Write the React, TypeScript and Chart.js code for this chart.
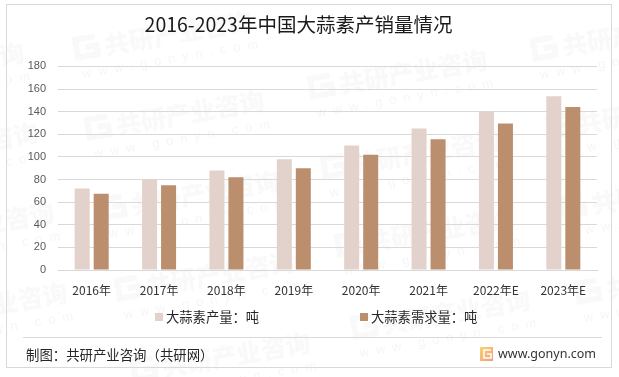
import React, { useEffect, useRef } from "react";
import { Chart, registerables } from "chart.js";

Chart.register(...registerables);

const categories = ["2016年", "2017年", "2018年", "2019年", "2020年", "2021年", "2022年E", "2023年E"];
const outputValues = [72, 80, 88, 98, 110, 125, 140, 153.5];
const demandValues = [67.5, 75, 82, 90, 102, 115.5, 129.5, 144];
const titleText = "2016-2023年中国大蒜素产销量情况";
const outputLabel = "大蒜素产量：吨";
const demandLabel = "大蒜素需求量：吨";
const sourceText = "制图：共研产业咨询（共研网）";
const siteText = "www.gonyn.com";
const watermarkStarts = [
  [-153, 90], [-139, 170], [-123, 250], [-110, 330],
  [75, 58], [87, 138], [102, 218], [117, 299], [133, 380],
  [310, 97], [323, 177], [337, 255], [353, 337],
  [533, 59], [548, 137], [562, 217], [577, 302],
];
const legendBoxX = [155, 360];

const CJK = '"Noto Sans CJK SC", "Noto Sans", sans-serif';

const decor = {
  id: "decor",
  beforeDraw(chart: any) {
    const c = chart.ctx;
    c.save();
    c.fillStyle = "#ffffff";
    c.fillRect(0, 0, 619, 377);
    for (const [x, y] of watermarkStarts) {
      c.save();
      c.translate(x, y);
      c.rotate(-0.17);
      c.strokeStyle = "rgba(110,110,110,0.045)";
      c.lineWidth = 6;
      c.beginPath();
      c.moveTo(23, -18);
      c.lineTo(3, -18);
      c.lineTo(3, 0);
      c.lineTo(23, 0);
      c.lineTo(23, -9);
      c.lineTo(12, -9);
      c.stroke();
      c.fillStyle = "rgba(110,110,110,0.045)";
      c.font = `900 25px ${CJK}`;
      c.textBaseline = "alphabetic";
      c.fillText("共研产业咨询", 31, 2);
      c.fillStyle = "rgba(110,110,110,0.07)";
      c.font = `400 13px "Liberation Sans", sans-serif`;
      (c as any).letterSpacing = "7px";
      c.fillText("www.gonyn.com", 4, 21);
      (c as any).letterSpacing = "0px";
      c.restore();
    }
    c.restore();
  },
  afterDraw(chart: any) {
    const c = chart.ctx;
    c.save();
    c.strokeStyle = "#d9d9d9";
    c.lineWidth = 1;
    c.strokeRect(6.5, 4.5, 605, 363);
    c.beginPath();
    c.moveTo(23, 337.5);
    c.lineTo(602, 337.5);
    c.stroke();
    chart.data.datasets.forEach((d: any, i: number) => {
      c.fillStyle = d.backgroundColor;
      c.fillRect(legendBoxX[i], 313, 8, 8);
      c.fillStyle = "#262626";
      c.textBaseline = "middle";
      c.font = `13.3px ${CJK}`;
      c.fillText(d.label, legendBoxX[i] + 11, 317);
    });
    c.fillStyle = "#262626";
    c.textBaseline = "middle";
    c.font = `13.4px ${CJK}`;
    c.fillText(sourceText, 26, 355);
    c.font = `12.5px "Noto Sans", sans-serif`;
    c.fillStyle = "#333333";
    c.fillText(siteText, 498, 354);
    const g = c.createLinearGradient(480, 347, 493, 361);
    g.addColorStop(0, "#f9d36f");
    g.addColorStop(1, "#f79a7c");
    c.fillStyle = g;
    c.fillRect(480, 347, 13, 14);
    c.strokeStyle = "#ffffff";
    c.lineWidth = 1.6;
    c.beginPath();
    c.moveTo(491, 350);
    c.lineTo(484, 350);
    c.lineTo(484, 358);
    c.lineTo(491, 358);
    c.lineTo(491, 354);
    c.lineTo(487, 354);
    c.stroke();
    c.restore();
  },
};

export default function App() {
  const ref = useRef<HTMLCanvasElement>(null);
  useEffect(() => {
    document.body.style.margin = "0";
    const chart = new Chart(ref.current!, {
      type: "bar",
      data: {
        labels: categories,
        datasets: [
          { label: outputLabel, data: outputValues, backgroundColor: "#e2d2cb", categoryPercentage: 0.564, barPercentage: 0.79 },
          { label: demandLabel, data: demandValues, backgroundColor: "#bb8f6e", categoryPercentage: 0.564, barPercentage: 0.79 },
        ],
      },
      options: {
        animation: false,
        responsive: false,
        layout: { padding: { left: 0, right: 22, top: 0, bottom: 77 } },
        scales: {
          x: {
            afterFit(s: any) { s.height = 30; },
            grid: { display: false },
            border: { color: "#d9d9d9" },
            ticks: { color: "#333333", font: { family: CJK, size: 12 }, padding: 5, maxRotation: 0 },
          },
          y: {
            min: 0,
            max: 180,
            afterFit(s: any) { s.width = 58; },
            grid: { color: "#d9d9d9", drawTicks: false },
            border: { display: false },
            ticks: { stepSize: 20, color: "#595959", font: { family: '"Liberation Sans", sans-serif', size: 11 }, padding: 12 },
          },
        },
        plugins: {
          tooltip: { enabled: false },
          legend: { display: false },
          title: {
            display: true,
            text: titleText,
            color: "#1a1a1a",
            font: { family: CJK, size: 19.5, weight: "normal" },
            padding: { top: 13, bottom: 30 },
          },
        },
      },
      plugins: [decor],
    } as any);
    return () => chart.destroy();
  }, []);
  return (
    <div style={{ position: "absolute", left: 0, top: 0, width: 619, height: 377 }}>
      <canvas ref={ref} width={619} height={377} style={{ display: "block" }} />
    </div>
  );
}
